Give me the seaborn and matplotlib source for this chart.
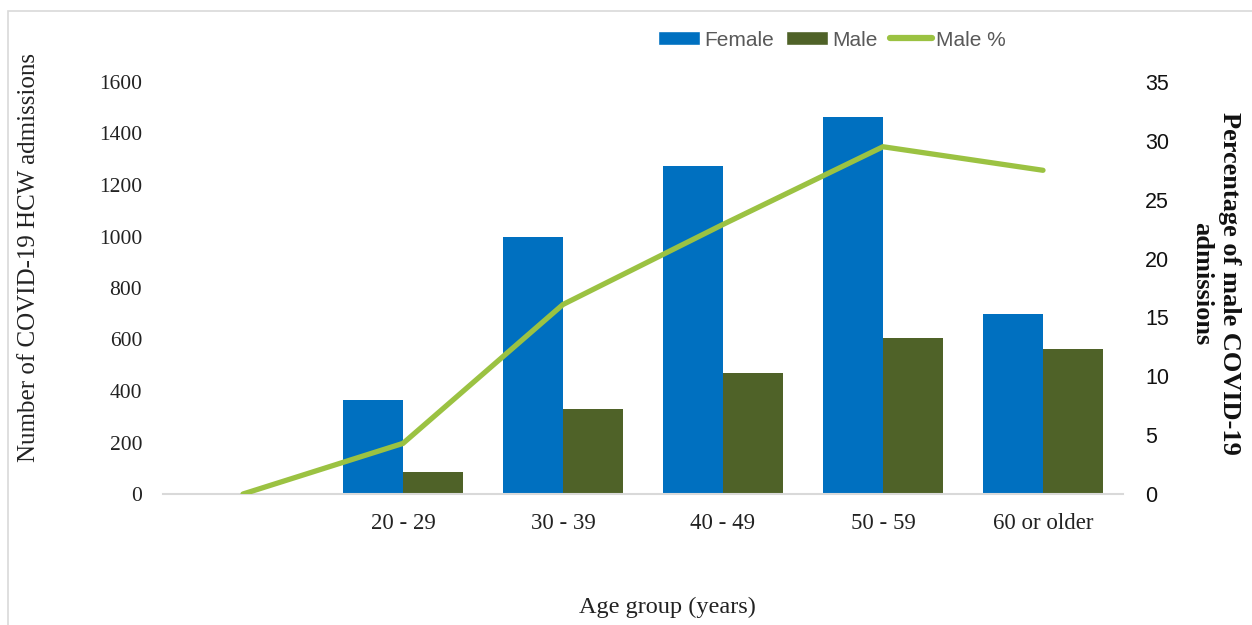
import matplotlib
matplotlib.use("Agg")
import matplotlib.pyplot as plt
from matplotlib.patches import Patch, Rectangle
from matplotlib.lines import Line2D
import numpy as np
import pandas as pd
import seaborn as sns

# Admissions of healthcare workers by age group
age_groups = ["", "20 - 29", "30 - 39", "40 - 49", "50 - 59", "60 or older"]
female = [0, 365, 1000, 1275, 1465, 700]
male = [0, 85, 330, 470, 605, 565]
male_pct = [0, 4.3, 16.1, 22.9, 29.5, 27.5]

FEMALE_C = "#0070C0"
MALE_C = "#4F6228"
PCT_C = "#9BC242"
SERIF = "Liberation Serif"
SANS = "Liberation Sans"

sns.set_theme(style="white")
plt.rcParams["font.family"] = [SERIF, "DejaVu Serif"]

long_df = pd.DataFrame({
    "age": age_groups * 2,
    "sex": ["Female"] * len(age_groups) + ["Male"] * len(age_groups),
    "count": female + male,
})
pct_df = pd.DataFrame({"age": age_groups, "male_pct": male_pct})
pct_df["pos"] = pct_df.index

fig = plt.figure(figsize=(12.52, 6.25), dpi=100)
ax = fig.add_axes([163 / 1252, 1 - 494 / 625, 960 / 1252, 412 / 625])

sns.barplot(data=long_df, x="age", y="count", hue="sex", order=age_groups,
            palette={"Female": FEMALE_C, "Male": MALE_C}, width=0.75, gap=0,
            saturation=1, ax=ax, legend=False, linewidth=0)
ax.set_ylim(0, 1600)
ax.set_xlim(-0.5, len(age_groups) - 0.5)
ax.set_yticks(np.arange(0, 1601, 200))
ax.tick_params(axis="y", length=0, pad=15, labelsize=15.5, labelcolor="#222222")
ax.tick_params(axis="x", length=0, pad=14, labelsize=16.5, labelcolor="#222222")
for s in ["top", "right", "left"]:
    ax.spines[s].set_visible(False)
ax.spines["bottom"].set_color("#D9D9D9")
ax.spines["bottom"].set_linewidth(1.5)
ax.set_xlabel("")
ax.set_ylabel("Number of COVID-19 HCW admissions", fontsize=18,
              color="#222222", labelpad=0)
ax.yaxis.set_label_coords(-0.128, 0.575)

ax2 = ax.twinx()
sns.lineplot(data=pct_df, x="pos", y="male_pct", ax=ax2, color=PCT_C,
             linewidth=3.8, solid_capstyle="round", solid_joinstyle="miter",
             legend=False)
ax2.set_ylim(0, 35)
ax2.set_xlim(-0.5, len(age_groups) - 0.5)
ax2.set_yticks(np.arange(0, 36, 5))
for lab in ax2.get_yticklabels():
    lab.set_fontfamily(SANS)
ax2.tick_params(axis="y", length=0, pad=16, labelsize=15.5, labelcolor="#111111")
for s in ["top", "right", "left", "bottom"]:
    ax2.spines[s].set_visible(False)
ax2.set_xlabel("")
ax2.set_ylabel("Percentage of male COVID-19\nadmissions", fontsize=19,
               fontweight="bold", rotation=270, color="#111111",
               linespacing=1.3)
ax2.yaxis.set_label_coords(1.123, 0.51)

fig.text(667 / 1252, 1 - 607 / 625, "Age group (years)", ha="center",
         va="center", fontsize=17.5, color="#222222")

handles = [Patch(facecolor=FEMALE_C), Patch(facecolor=MALE_C),
           Line2D([0], [0], color=PCT_C, linewidth=4.5, solid_capstyle="round")]
leg = fig.legend(handles, ["Female", "Male", "Male %"], ncol=3, frameon=False,
                 loc="center", bbox_to_anchor=(832 / 1252, 1 - 40 / 625),
                 prop={"family": SANS, "size": 15}, handlelength=2.0,
                 handleheight=0.65, handletextpad=0.2, columnspacing=0.6,
                 labelcolor="#595959")

fig.patches.append(Rectangle((8 / 1252, -0.1), 1.2, 1.1 - 11 / 625,
                             transform=fig.transFigure, fill=False,
                             edgecolor="#D9D9D9", linewidth=1.2))

fig.savefig("out.png", dpi=100)
